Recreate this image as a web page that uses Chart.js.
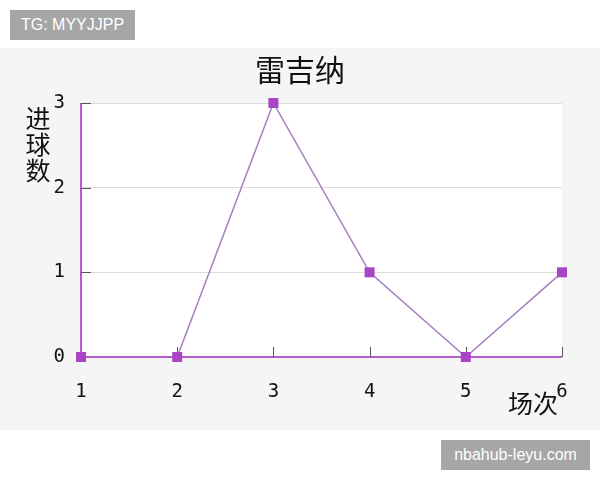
<!DOCTYPE html>
<html>
<head>
<meta charset="utf-8">
<script src="https://cdn.jsdelivr.net/npm/chart.js@4/dist/chart.umd.min.js"></script>
<style>
  html, body { margin: 0; padding: 0; background: #fff; }
  #wrap { position: relative; width: 600px; height: 480px; overflow: hidden; }
  #panel { position: absolute; left: 0; top: 48px; width: 600px; height: 382px; background: #f5f5f5; }
  #box { position: absolute; left: 0; top: 0; width: 600px; height: 480px; }
  .tag {
    position: absolute; background: #a6a6a6; color: #fff;
    font: 16px 'Liberation Sans', Arial, sans-serif;
    display: flex; align-items: center; justify-content: center;
  }
</style>
</head>
<body>
<div id="wrap">
  <div id="panel"></div>
  <div id="box"><canvas id="c"></canvas></div>
  <div class="tag" style="left:10px;top:10px;width:125px;height:30px;">TG: MYYJJPP</div>
  <div class="tag" style="left:441px;top:440px;width:149px;height:30px;">nbahub-leyu.com</div>
</div>
<script>
/* ── data ── */
const matches = [1, 2, 3, 4, 5, 6];
const goals   = [0, 0, 3, 1, 0, 1];
const yTicks  = [0, 1, 2, 3];
const titleText  = '雷吉纳';
const yTitleText = '进球数';
const xTitleText = '场次';

const C = {
  line:   '#a67fbf',
  marker: '#a845c4',
  axis:   '#b45ccc',
  grid:   '#dcdcdc',
  tick:   '#555555',
  text:   '#111111',
};

/* white plot background + inner ticks + axis titles */
const decor = {
  id: 'decor',
  beforeDraw(chart) {
    const { ctx, chartArea: a } = chart;
    ctx.save();
    ctx.fillStyle = '#ffffff';
    ctx.fillRect(a.left, a.top, a.right - a.left, a.bottom - a.top);
    ctx.restore();
  },
  afterDatasetsDraw(chart) {
    const { ctx, chartArea: a, scales } = chart;
    ctx.save();
    // axis lines
    ctx.strokeStyle = C.axis;
    ctx.lineWidth = 2;
    ctx.beginPath();
    ctx.moveTo(a.left, a.top);
    ctx.lineTo(a.left, a.bottom);
    ctx.lineTo(a.right, a.bottom);
    ctx.stroke();
    // inner ticks
    ctx.strokeStyle = C.tick;
    ctx.lineWidth = 1;
    ctx.beginPath();
    matches.slice(1).forEach(m => {
      const x = Math.round(scales.x.getPixelForValue(m)) + 0.5;
      ctx.moveTo(x, a.bottom);
      ctx.lineTo(x, a.bottom - 10);
    });
    yTicks.slice(1).forEach(v => {
      const y = Math.round(scales.y.getPixelForValue(v)) + 0.5;
      ctx.moveTo(a.left, y);
      ctx.lineTo(a.left + 10, y);
    });
    ctx.stroke();
    // markers on top of axis
    const meta = chart.getDatasetMeta(0);
    ctx.fillStyle = C.marker;
    meta.data.forEach(p => ctx.fillRect(p.x - 5, p.y - 5, 10, 10));
    // titles
    ctx.fillStyle = C.text;
    ctx.font = "25px 'Noto Sans CJK SC'";
    ctx.textAlign = 'center';
    ctx.textBaseline = 'middle';
    [...yTitleText].forEach((ch, i) => ctx.fillText(ch, a.left - 43, a.top + 15 + i * 26));
    ctx.textAlign = 'right';
    ctx.fillText(xTitleText, a.right - 4, a.bottom + 46);
    ctx.restore();
  },
};

const tickFont = { family: "'DejaVu Sans Mono'", size: 19 };

new Chart(document.getElementById('c'), {
  type: 'line',
  data: {
    datasets: [{
      data: matches.map((m, i) => ({ x: m, y: goals[i] })),
      borderColor: C.line,
      borderWidth: 1.5,
      pointRadius: 0,
      tension: 0,
      clip: false,
    }],
  },
  options: {
    responsive: true,
    maintainAspectRatio: false,
    animation: false,
    layout: { padding: 0 },
    plugins: {
      legend: { display: false },
      tooltip: { enabled: false },
      title: {
        display: true,
        text: titleText,
        color: C.text,
        font: { family: "'Noto Sans CJK SC'", size: 30, weight: 'normal', lineHeight: 1.2 },
        padding: { top: 52, bottom: 15 },
      },
    },
    scales: {
      x: {
        type: 'linear',
        min: matches[0],
        max: matches[matches.length - 1],
        border: { display: false },
        grid: { display: false, drawTicks: false },
        ticks: { stepSize: 1, padding: 24, color: C.text, font: tickFont },
        afterFit(s) { s.height = 123; },
      },
      y: {
        min: yTicks[0],
        max: yTicks[yTicks.length - 1],
        border: { display: false },
        grid: { color: C.grid, lineWidth: 1, drawTicks: false },
        ticks: { stepSize: 1, padding: 16, color: C.text, font: tickFont },
        afterFit(s) { s.width = 81; },
      },
      /* empty right margin so the title stays centred on the page */
      yRight: {
        position: 'right',
        display: true,
        border: { display: false },
        grid: { display: false, drawTicks: false },
        ticks: { display: false },
        afterFit(s) { s.width = 38; },
      },
    },
  },
  plugins: [decor],
});
</script>
</body>
</html>
